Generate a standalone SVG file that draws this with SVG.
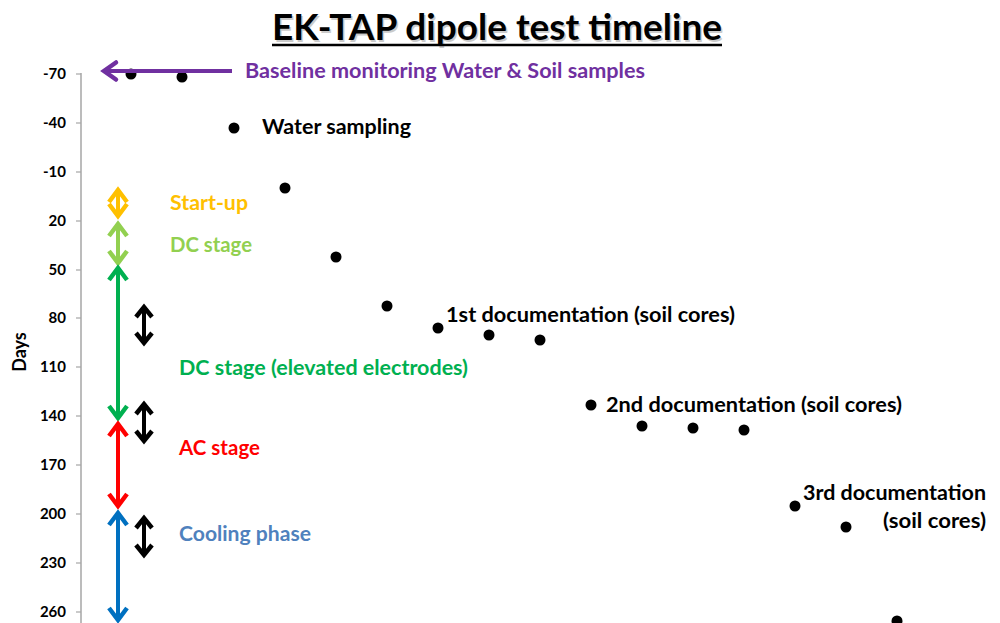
<svg xmlns="http://www.w3.org/2000/svg" width="1000" height="623" viewBox="0 0 1000 623">
<style>
.t{font-family:Lato,"Liberation Sans",sans-serif;font-weight:bold;}
.lbl{font-size:20px;}
.ax{font-size:15px;text-anchor:end;fill:#000;}
.dot{fill:#000;}
.sh{fill:none;stroke-width:4;}
</style>
<defs>
<marker id="mP" markerUnits="userSpaceOnUse" markerWidth="30" markerHeight="30" refX="0" refY="0" viewBox="-20 -15 30 30" orient="auto-start-reverse" overflow="visible"><path d="M-13,-8.5 L-1,0 L-13,8.5" fill="none" stroke="#7030A0" stroke-width="4.5" stroke-linecap="round"/></marker>
<marker id="mO" markerUnits="userSpaceOnUse" markerWidth="30" markerHeight="30" refX="0" refY="0" viewBox="-20 -15 30 30" orient="auto-start-reverse" overflow="visible"><path d="M-13,-9 L-1,0 L-13,9" fill="none" stroke="#FFC000" stroke-width="4.5"/></marker>
<marker id="mL" markerUnits="userSpaceOnUse" markerWidth="30" markerHeight="30" refX="0" refY="0" viewBox="-20 -15 30 30" orient="auto-start-reverse" overflow="visible"><path d="M-13,-9 L-1,0 L-13,9" fill="none" stroke="#92D050" stroke-width="4.5"/></marker>
<marker id="mG" markerUnits="userSpaceOnUse" markerWidth="30" markerHeight="30" refX="0" refY="0" viewBox="-20 -15 30 30" orient="auto-start-reverse" overflow="visible"><path d="M-13,-9 L-1,0 L-13,9" fill="none" stroke="#00B050" stroke-width="4.5"/></marker>
<marker id="mR" markerUnits="userSpaceOnUse" markerWidth="30" markerHeight="30" refX="0" refY="0" viewBox="-20 -15 30 30" orient="auto-start-reverse" overflow="visible"><path d="M-13,-9 L-1,0 L-13,9" fill="none" stroke="#FF0000" stroke-width="4.5"/></marker>
<marker id="mB" markerUnits="userSpaceOnUse" markerWidth="30" markerHeight="30" refX="0" refY="0" viewBox="-20 -15 30 30" orient="auto-start-reverse" overflow="visible"><path d="M-13,-9 L-1,0 L-13,9" fill="none" stroke="#0070C0" stroke-width="4.5"/></marker>
<marker id="mK" markerUnits="userSpaceOnUse" markerWidth="30" markerHeight="30" refX="0" refY="0" viewBox="-20 -15 30 30" orient="auto-start-reverse" overflow="visible"><path d="M-11,-8 L-1,0 L-11,8" fill="none" stroke="#000" stroke-width="4.5"/></marker>
</defs>
<rect width="1000" height="623" fill="#fff"/>

<g id="title">
<text class="t" x="497" y="40" font-size="36" text-anchor="middle" fill="#999" opacity="0.5" transform="translate(1.5,1.5)" textLength="450" lengthAdjust="spacingAndGlyphs">EK-TAP dipole test timeline</text>
<text class="t" x="497" y="40" font-size="36" text-anchor="middle" fill="#000" textLength="450" lengthAdjust="spacingAndGlyphs">EK-TAP dipole test timeline</text>
<line x1="272" y1="45" x2="722" y2="45" stroke="#000" stroke-width="2.5"/>
</g>

<g id="axis">
<line x1="81" y1="73" x2="81" y2="623" stroke="#a6a6a6" stroke-width="1.5"/>
<g stroke="#a6a6a6" stroke-width="1.2">
<line x1="76" y1="74" x2="81" y2="74"/><line x1="76" y1="123" x2="81" y2="123"/><line x1="76" y1="172" x2="81" y2="172"/><line x1="76" y1="221" x2="81" y2="221"/><line x1="76" y1="270" x2="81" y2="270"/><line x1="76" y1="318" x2="81" y2="318"/><line x1="76" y1="367" x2="81" y2="367"/><line x1="76" y1="416" x2="81" y2="416"/><line x1="76" y1="465" x2="81" y2="465"/><line x1="76" y1="514" x2="81" y2="514"/><line x1="76" y1="563" x2="81" y2="563"/><line x1="76" y1="612" x2="81" y2="612"/>
</g>
<text class="t ax" x="66" y="79">-70</text>
<text class="t ax" x="66" y="128">-40</text>
<text class="t ax" x="66" y="177">-10</text>
<text class="t ax" x="66" y="226">20</text>
<text class="t ax" x="66" y="275">50</text>
<text class="t ax" x="66" y="323">80</text>
<text class="t ax" x="66" y="372">110</text>
<text class="t ax" x="66" y="421">140</text>
<text class="t ax" x="66" y="470">170</text>
<text class="t ax" x="66" y="519">200</text>
<text class="t ax" x="66" y="568">230</text>
<text class="t ax" x="66" y="617">260</text>
<text class="t" font-size="18" text-anchor="middle" transform="translate(26,352) rotate(-90)">Days</text>
</g>

<g id="dots">
<circle class="dot" cx="131" cy="74" r="5.5"/>
<circle class="dot" cx="182" cy="77" r="5.5"/>
<circle class="dot" cx="234" cy="128" r="5.5"/>
<circle class="dot" cx="285" cy="188" r="5.5"/>
<circle class="dot" cx="336" cy="257" r="5.5"/>
<circle class="dot" cx="387" cy="306" r="5.5"/>
<circle class="dot" cx="438" cy="328" r="5.5"/>
<circle class="dot" cx="489" cy="335" r="5.5"/>
<circle class="dot" cx="540" cy="340" r="5.5"/>
<circle class="dot" cx="591" cy="405" r="5.5"/>
<circle class="dot" cx="642" cy="426" r="5.5"/>
<circle class="dot" cx="693" cy="428" r="5.5"/>
<circle class="dot" cx="744" cy="430" r="5.5"/>
<circle class="dot" cx="795" cy="506" r="5.5"/>
<circle class="dot" cx="846" cy="527" r="5.5"/>
<circle class="dot" cx="897" cy="621" r="5.5"/>
</g>

<g id="connectors">
<line class="sh" x1="232" y1="71" x2="103" y2="71" stroke="#7030A0" stroke-width="4.5" marker-end="url(#mP)"/>
<line class="sh" x1="118" y1="189" x2="118" y2="217" stroke="#FFC000" marker-start="url(#mO)" marker-end="url(#mO)"/>
<line class="sh" x1="118" y1="223" x2="118" y2="264" stroke="#92D050" marker-start="url(#mL)" marker-end="url(#mL)"/>
<line class="sh" x1="118" y1="267" x2="118" y2="419" stroke="#00B050" marker-start="url(#mG)" marker-end="url(#mG)"/>
<line class="sh" x1="118" y1="423" x2="118" y2="507" stroke="#FF0000" marker-start="url(#mR)" marker-end="url(#mR)"/>
<line class="sh" x1="118" y1="512" x2="118" y2="621" stroke="#0070C0" marker-start="url(#mB)" marker-end="url(#mB)"/>
<line class="sh" x1="144" y1="306" x2="144" y2="344" stroke="#000" marker-start="url(#mK)" marker-end="url(#mK)"/>
<line class="sh" x1="144" y1="403" x2="144" y2="442" stroke="#000" marker-start="url(#mK)" marker-end="url(#mK)"/>
<line class="sh" x1="144" y1="517" x2="144" y2="556" stroke="#000" marker-start="url(#mK)" marker-end="url(#mK)"/>
</g>

<g id="labels">
<text class="t lbl" x="245" y="78" fill="#7030A0" textLength="400" lengthAdjust="spacingAndGlyphs">Baseline monitoring Water &amp; Soil samples</text>
<text class="t lbl" x="262" y="134" fill="#000" textLength="149" lengthAdjust="spacingAndGlyphs">Water sampling</text>
<text class="t lbl" x="170" y="210" fill="#FFC000" textLength="78" lengthAdjust="spacingAndGlyphs">Start-up</text>
<text class="t lbl" x="170" y="252" fill="#92D050" textLength="82" lengthAdjust="spacingAndGlyphs">DC stage</text>
<text class="t lbl" x="179" y="375" fill="#00B050" textLength="289" lengthAdjust="spacingAndGlyphs">DC stage (elevated electrodes)</text>
<text class="t lbl" x="179" y="455" fill="#FF0000" textLength="81" lengthAdjust="spacingAndGlyphs">AC stage</text>
<text class="t lbl" x="179" y="541" fill="#4F81BD" textLength="132" lengthAdjust="spacingAndGlyphs">Cooling phase</text>
<text class="t lbl" x="446" y="322" fill="#000" textLength="289" lengthAdjust="spacingAndGlyphs">1st documentation (soil cores)</text>
<text class="t lbl" x="606" y="412" fill="#000" textLength="296" lengthAdjust="spacingAndGlyphs">2nd documentation (soil cores)</text>
<text class="t lbl" x="803" y="500" fill="#000" textLength="183" lengthAdjust="spacingAndGlyphs">3rd documentation</text>
<text class="t lbl" x="883" y="528" fill="#000" textLength="103" lengthAdjust="spacingAndGlyphs">(soil cores)</text>
</g>
</svg>
